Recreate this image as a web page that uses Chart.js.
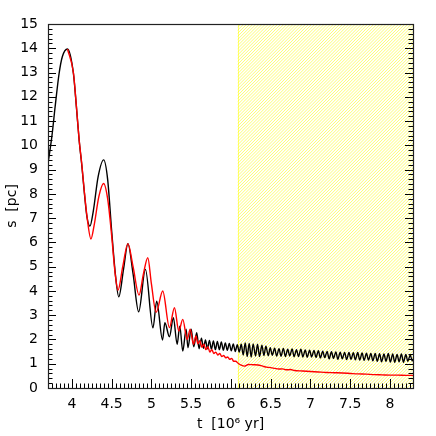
<!DOCTYPE html>
<html><head><meta charset="utf-8">
<script src="https://cdn.jsdelivr.net/npm/chart.js@4.4.1/dist/chart.umd.min.js"></script>
<style>html,body{margin:0;padding:0;background:#fff}#wrap{width:436px;height:436px}</style>
</head><body><div id="wrap"><canvas id="c" width="436" height="436"></canvas></div>
<script>
// ---- data ----
const blackT = [3.70,3.75,3.79,3.84,3.88,3.945,4.02,4.058,4.092,4.126,4.16,4.19,4.227,4.27,4.33,4.40,4.45,4.50,4.55,4.59,4.65,4.705,4.77,4.84,4.925,5.02,5.067,5.14,5.17,5.227,5.277,5.324,5.357,5.395,5.437,5.46,5.50,5.533,5.57,
  5.60,5.63,5.655,5.68,5.705,5.73,5.755,5.78,5.805,5.83,5.855,5.88,5.905,5.93,5.955,5.98,6.005,6.03,6.055,6.08,
  6.105,6.13,6.155,6.18,6.205,6.23,6.255,6.28,6.31,6.335,6.36,6.39,6.415,6.44,6.47,6.495,6.52,6.55,6.575,6.605,6.63,6.66,6.685,6.715,6.74,6.77,6.795,6.825,6.85,6.88,6.905,6.935,6.96,6.99,7.015,7.045,7.07,7.10,7.125,7.155,7.18,7.21,7.235,7.265,7.29,7.32,7.345,7.375,7.40,7.43,7.455,7.485,7.51,7.54,7.565,7.595,7.62,7.65,7.675,7.705,7.73,7.76,7.785,7.815,7.84,7.87,7.895,7.925,7.95,7.98,8.005,8.035,8.06,8.09,8.115,8.145,8.17,8.20,8.225,8.255,8.28,8.29];
const blackS = [9.25,10.4,11.6,12.97,13.65,13.97,12.95,11.55,10.2,9.15,7.95,7.05,6.67,7.3,8.7,9.40,8.6,6.5,4.6,3.76,4.9,5.95,4.7,3.14,4.89,2.48,3.58,1.98,2.69,2.11,2.9,1.8,2.55,1.52,2.42,1.66,2.42,1.7,2.28,
  1.62,2.05,1.64,1.98,1.62,1.96,1.6,1.94,1.58,1.92,1.58,1.9,1.56,1.86,1.55,1.84,1.53,1.82,1.5,1.78,
  1.48,1.80,1.36,1.86,1.30,1.84,1.28,1.82,1.32,1.80,1.30,1.76,1.34,1.72,1.33,1.66,1.35,1.64,1.32,1.62,1.31,1.63,1.30,1.60,1.32,1.61,1.29,1.58,1.30,1.60,1.28,1.57,1.27,1.56,1.28,1.55,1.26,1.54,1.24,1.52,1.25,1.51,1.20,1.50,1.22,1.49,1.18,1.48,1.20,1.47,1.17,1.46,1.18,1.45,1.16,1.46,1.15,1.44,1.14,1.43,1.15,1.42,1.12,1.42,1.10,1.41,1.08,1.40,1.10,1.42,1.07,1.40,1.06,1.38,1.08,1.40,1.06,1.38,1.10,1.36,1.12,1.20];
const redT = [3.945,4.02,4.058,4.092,4.126,4.155,4.193,4.24,4.28,4.34,4.40,4.45,4.50,4.545,4.58,4.64,4.705,4.77,4.845,4.90,4.955,5.00,5.06,5.143,5.227,5.29,5.345,5.395,5.45,5.488,5.53,5.56,
  5.585,5.61,5.635,5.66,5.685,5.71,5.735,5.76,5.785,5.81,5.835,5.86,5.885,5.91,5.935,5.96,5.985,6.01,6.035,6.06,6.09,6.13,6.17,6.22,6.28,6.34,6.40,6.45,6.50,6.55,6.60,6.65,6.70,6.75,6.80,6.90,7.00,7.10,7.20,7.30,7.40,7.50,7.60,7.70,7.80,7.90,8.00,8.10,8.20,8.29];
const redS = [13.97,12.98,11.58,10.22,9.19,8.16,7.0,6.14,6.7,7.9,8.43,7.8,6.3,4.7,4.03,5.0,5.95,5.0,3.83,4.7,5.37,4.3,3.12,4.0,2.49,3.31,2.35,2.83,2.0,2.42,1.8,2.14,
  1.82,1.95,1.68,1.80,1.58,1.70,1.48,1.58,1.42,1.48,1.36,1.42,1.30,1.34,1.24,1.28,1.18,1.22,1.10,1.10,1.02,0.94,0.90,0.97,0.96,0.95,0.90,0.86,0.84,0.81,0.78,0.79,0.75,0.76,0.72,0.70,0.68,0.66,0.64,0.63,0.62,0.60,0.58,0.57,0.55,0.54,0.53,0.53,0.52,0.52];
const xTicks = [4,4.5,5,5.5,6,6.5,7,7.5,8];
const yTicks = [0,1,2,3,4,5,6,7,8,9,10,11,12,13,14,15];
const xRange = [3.7, 8.29];
const yRange = [0, 15];
const xMinorStep = 0.05;
const yMinorStep = 0.2;
const shadeStart = 6.085;

const FONT = 'DejaVu Sans';

const decor = {
  id: 'decor',
  beforeDatasetsDraw(chart) {
    const {ctx, chartArea: a, scales: {x}} = chart;
    const x0 = x.getPixelForValue(shadeStart);
    ctx.save();
    ctx.beginPath(); ctx.rect(x0, a.top, a.right - x0, a.bottom - a.top); ctx.clip();
    ctx.strokeStyle = 'rgba(255,255,0,0.62)'; ctx.lineWidth = 0.9;
    ctx.beginPath();
    const h = a.bottom - a.top;
    for (let s = x0 - h; s < a.right + 2; s += 3.1) { ctx.moveTo(s, a.bottom); ctx.lineTo(s + h, a.top); }
    ctx.stroke();
    ctx.restore();
    ctx.save();
    ctx.strokeStyle = 'rgba(255,255,0,0.5)'; ctx.lineWidth = 1;
    ctx.beginPath(); ctx.moveTo(Math.round(x0) + 0.5, a.top); ctx.lineTo(Math.round(x0) + 0.5, a.bottom); ctx.stroke();
    ctx.restore();
  },
  afterDatasetsDraw(chart) {
    const {ctx, chartArea: a, scales: {x, y}} = chart;
    ctx.save();
    ctx.strokeStyle = '#000'; ctx.lineWidth = 1;
    ctx.beginPath();
    const n0 = Math.ceil(xRange[0] / xMinorStep - 1e-6), n1 = Math.floor(xRange[1] / xMinorStep + 1e-6);
    for (let i = n0; i <= n1; i++) {
      const v = i * xMinorStep;
      const major = xTicks.some(t => Math.abs(t - v) < 1e-6);
      const px = Math.round(x.getPixelForValue(v)) + 0.5;
      const len = major ? 9 : 4.5;
      ctx.moveTo(px, a.bottom); ctx.lineTo(px, a.bottom - len);
    }
    const m0 = Math.ceil(yRange[0] / yMinorStep - 1e-6), m1 = Math.floor(yRange[1] / yMinorStep + 1e-6);
    for (let i = m0; i <= m1; i++) {
      const v = i * yMinorStep;
      const major = yTicks.some(t => Math.abs(t - v) < 1e-6);
      const py = Math.round(y.getPixelForValue(v)) + 0.5;
      const len = major ? 8 : 4.5;
      ctx.moveTo(a.left, py); ctx.lineTo(a.left + len, py);
      ctx.moveTo(a.right, py); ctx.lineTo(a.right - len, py);
    }
    ctx.stroke();
    ctx.strokeStyle = '#222'; ctx.lineWidth = 1.2;
    ctx.strokeRect(a.left + 0.5, a.top + 0.5, a.right - a.left, a.bottom - a.top);
    ctx.restore();
  }
};

const toPts = (T, S) => T.map((t, i) => ({x: t, y: S[i]}));

new Chart(document.getElementById('c'), {
  type: 'line',
  data: {
    datasets: [
      {label: 'red', data: toPts(redT, redS), borderColor: '#ff0000', borderWidth: 1.4, pointRadius: 0, cubicInterpolationMode: 'monotone', fill: false},
      {label: 'black', data: toPts(blackT, blackS), borderColor: '#000000', borderWidth: 1.4, pointRadius: 0, cubicInterpolationMode: 'monotone', fill: false}
    ]
  },
  options: {
    responsive: false,
    animation: false,
    devicePixelRatio: 1,
    layout: {padding: {top: 24, right: 23, left: 0, bottom: 0}},
    plugins: {legend: {display: false}, tooltip: {enabled: false}},
    scales: {
      x: {
        type: 'linear', min: xRange[0], max: xRange[1],
        afterBuildTicks: s => { s.ticks = xTicks.map(v => ({value: v})); },
        afterFit: s => { s.height = 48; },
        grid: {display: false, drawTicks: false}, border: {display: false},
        ticks: {autoSkip: false, maxRotation: 0, padding: 8, color: '#000', font: {family: FONT, size: 14}, callback: v => String(v)},
        title: {display: true, text: 't  [10⁶ yr]', color: '#000', font: {family: FONT, size: 14}, padding: {top: 0, bottom: 3}}
      },
      y: {
        type: 'linear', min: yRange[0], max: yRange[1],
        afterBuildTicks: s => { s.ticks = yTicks.map(v => ({value: v})); },
        afterFit: s => { s.width = 48; },
        grid: {display: false, drawTicks: false}, border: {display: false},
        ticks: {autoSkip: false, padding: 10, color: '#000', font: {family: FONT, size: 14}, callback: v => String(v)},
        title: {display: true, text: 's  [pc]', color: '#000', font: {family: FONT, size: 14}, padding: {top: 4, bottom: 0}}
      }
    }
  },
  plugins: [decor]
});
</script></body></html>
